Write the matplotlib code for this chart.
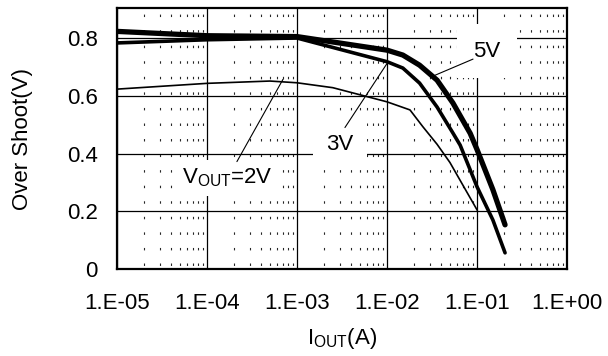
import numpy as np
import matplotlib
matplotlib.use('Agg')
import matplotlib.pyplot as plt
from matplotlib.ticker import FixedLocator, LogLocator, NullFormatter

plt.rcParams['font.family'] = ['Liberation Sans', 'DejaVu Sans']
plt.rcParams['mathtext.fontset'] = 'custom'
plt.rcParams['mathtext.rm'] = 'Liberation Sans'

# Datos
i_5v = [1e-5, 1e-4, 1e-3, 1e-2, 1.5e-2, 2.3e-2, 3.6e-2, 5.4e-2, 8.4e-2, 0.1, 0.15, 0.205]
v_5v = [0.823, 0.808, 0.805, 0.758, 0.741, 0.706, 0.654, 0.575, 0.47, 0.414, 0.275, 0.153]

i_3v = [1e-5, 1e-4, 1e-3, 1e-2, 1.5e-2, 2.3e-2, 3.6e-2, 5.4e-2, 6.5e-2, 0.1, 0.15, 0.205]
v_3v = [0.783, 0.794, 0.80, 0.718, 0.696, 0.644, 0.561, 0.471, 0.429, 0.285, 0.17, 0.056]

i_2v = [1e-5, 1e-4, 5e-4, 1e-3, 2.5e-3, 1e-2, 1.8e-2, 2.5e-2, 3.6e-2, 5e-2, 0.1]
v_2v = [0.623, 0.643, 0.651, 0.645, 0.628, 0.579, 0.551, 0.493, 0.432, 0.369, 0.205]

x_ticks = [1e-5, 1e-4, 1e-3, 1e-2, 1e-1, 1e0]
x_labels = ['1.E-05', '1.E-04', '1.E-03', '1.E-02', '1.E-01', '1.E+00']
y_ticks = [0, 0.2, 0.4, 0.6, 0.8]
y_labels = ['0', '0.2', '0.4', '0.6', '0.8']

fig = plt.figure(figsize=(6.08, 3.56), dpi=100)
ax = fig.add_axes([117 / 608, 1 - 269 / 356, 450 / 608, 261 / 356])

ax.set_xscale('log')
ax.set_xlim(1e-5, 1)
ax.set_ylim(0, 0.904)

# Rejilla
ax.xaxis.set_major_locator(FixedLocator(x_ticks))
ax.xaxis.set_minor_locator(LogLocator(base=10, subs=np.arange(2, 10)))
ax.xaxis.set_minor_formatter(NullFormatter())
ax.set_xticklabels(x_labels)
ax.set_yticks(y_ticks)
ax.set_yticklabels(y_labels)

ax.grid(True, which='major', axis='both', color='black', lw=0.9)
ax.grid(True, which='minor', axis='x', color='0.15', lw=0.8,
        linestyle=(10.8, (2.2, 11.8)))
ax.set_axisbelow(True)

ax.tick_params(which='both', length=0)
ax.tick_params(axis='x', pad=17, labelsize=16)
ax.tick_params(axis='y', pad=14, labelsize=16)

for s in ax.spines.values():
    s.set_linewidth(1.6)
    s.set_color('black')

# Curvas
ax.plot(i_5v, v_5v, color='black', lw=3.8, solid_capstyle='round', zorder=5)
ax.plot(i_3v, v_3v, color='black', lw=2.6, solid_capstyle='round', zorder=5)
ax.plot(i_2v, v_2v, color='black', lw=1.2, zorder=5)

# Etiquetas
ax.text(0.129, 0.755, '5V', fontsize=16, ha='center', va='center',
        bbox=dict(boxstyle='square,pad=0.75', fc='white', ec='none'), zorder=3)
ax.text(0.0030, 0.432, '3V', fontsize=16, ha='center', va='center',
        bbox=dict(boxstyle='square,pad=0.6', fc='white', ec='none'), zorder=3)
ax.text(1.7e-4, 0.315, r'$\mathregular{V_{OUT}}$=2V', fontsize=16,
        ha='center', va='center',
        bbox=dict(boxstyle='square,pad=0.3', fc='white', ec='none'), zorder=3)

line = dict(arrowstyle='-', color='black', lw=0.8, shrinkA=0, shrinkB=0)
ax.annotate('', xy=(0.0324, 0.668), xytext=(0.0903, 0.727), arrowprops=line, zorder=4)
ax.annotate('', xy=(0.01026, 0.717), xytext=(0.00341, 0.49), arrowprops=line, zorder=4)
ax.annotate('', xy=(6.99e-4, 0.657), xytext=(2.15e-4, 0.372), arrowprops=line, zorder=4)

ax.set_ylabel('Over Shoot(V)', fontsize=16, labelpad=24)
ax.set_xlabel(r'$\mathregular{I_{OUT}}$(A)', fontsize=16, labelpad=9)

fig.savefig('out.png', dpi=100)
